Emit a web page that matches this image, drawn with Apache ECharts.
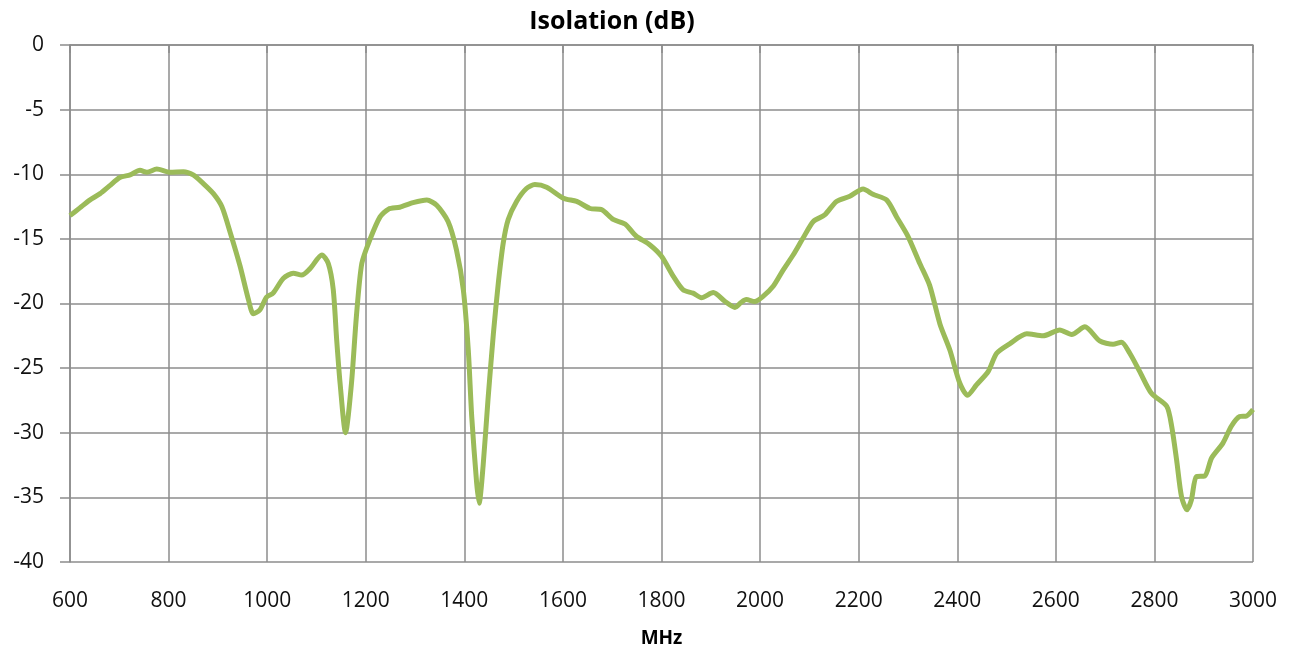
<!DOCTYPE html>
<html>
<head>
<meta charset="utf-8">
<script src="https://cdn.jsdelivr.net/npm/echarts@6/dist/echarts.min.js"></script>
<style>html,body{margin:0;padding:0;background:#fff;}#c{width:1296px;height:650px;}</style>
</head>
<body>
<div id="c"></div>
<script>
const chartTitle = 'Isolation (dB)';
const xAxisName = 'MHz';
const xTicks = [600, 3000, 200];
const yTicks = [-40, 0, 5];
const freqMHz = [600,620,640,661,680,701,722,742,756,776,803,830,850,870,891,908,925,945,962,972,985,999,1012,1033,1053,1070,1087,1111,1124,1134,1141,1148,1159,1171,1181,1192,1208,1229,1246,1269,1296,1324,1344,1367,1384,1398,1408,1415,1425,1430,1438,1448,1459,1469,1479,1489,1506,1526,1543,1567,1601,1628,1655,1679,1702,1726,1749,1776,1800,1824,1844,1864,1881,1905,1929,1949,1962,1972,1989,2006,2027,2047,2067,2087,2108,2131,2155,2182,2209,2229,2257,2277,2300,2324,2344,2365,2385,2405,2421,2439,2463,2480,2507,2541,2574,2608,2632,2659,2689,2716,2733,2750,2770,2794,2825,2835,2845,2855,2866,2875,2885,2902,2916,2939,2956,2973,2987,3000];
const isolationDb = [-13.2,-12.6,-12.0,-11.5,-10.9,-10.25,-10.05,-9.7,-9.85,-9.6,-9.85,-9.8,-10.05,-10.7,-11.5,-12.5,-14.5,-17.1,-19.7,-20.8,-20.5,-19.5,-19.2,-18.05,-17.65,-17.8,-17.3,-16.25,-16.9,-18.9,-22.8,-26.2,-30.0,-26.2,-21.0,-16.9,-15.1,-13.3,-12.7,-12.55,-12.2,-12.0,-12.4,-13.65,-15.85,-18.95,-23.6,-28.75,-33.9,-35.45,-32.6,-27.45,-22.3,-18.4,-15.3,-13.5,-12.1,-11.1,-10.8,-11.0,-11.85,-12.1,-12.65,-12.75,-13.5,-13.85,-14.8,-15.45,-16.35,-17.9,-18.95,-19.2,-19.55,-19.15,-19.85,-20.3,-19.9,-19.7,-19.85,-19.45,-18.65,-17.4,-16.25,-14.95,-13.65,-13.15,-12.1,-11.7,-11.15,-11.55,-12.0,-13.3,-14.8,-16.9,-18.6,-21.6,-23.6,-26.15,-27.1,-26.3,-25.25,-23.85,-23.1,-22.35,-22.5,-22.05,-22.4,-21.8,-22.9,-23.15,-23.0,-23.85,-25.25,-26.95,-27.95,-29.5,-32.1,-34.95,-35.95,-35.2,-33.4,-33.35,-31.95,-30.8,-29.5,-28.75,-28.7,-28.2];

const seriesData = freqMHz.map((f, i) => [f, isolationDb[i]]);
const gridColor = '#8c8c8c';
const fontFam = '"Open Sans", Lato, sans-serif';

const chart = echarts.init(document.getElementById('c'), null, {renderer: 'canvas'});
chart.setOption({
  animation: false,
  backgroundColor: '#ffffff',
  title: {
    text: chartTitle, left: 607, top: 4, textAlign: 'center',
    textStyle: {fontFamily: fontFam, fontSize: 25, fontWeight: 'bold', color: '#000'}
  },
  grid: {left: 70, right: 43, top: 45, bottom: 88, containLabel: false, outerBoundsMode: 'none'},
  xAxis: {
    type: 'value', min: xTicks[0], max: xTicks[1], interval: xTicks[2],
    name: xAxisName, nameLocation: 'middle', nameGap: 67,
    nameTextStyle: {fontFamily: fontFam, fontSize: 19, fontWeight: 'bold', color: '#000'},
    axisLine: {show: true, lineStyle: {color: gridColor, width: 1.5}},
    axisTick: {show: true, length: 8, lineStyle: {color: gridColor, width: 1.5}},
    axisLabel: {fontFamily: fontFam, fontSize: 21, color: '#111', margin: 29, formatter: v => String(v)},
    splitLine: {show: true, lineStyle: {color: gridColor, width: 1.5}}
  },
  yAxis: {
    type: 'value', min: yTicks[0], max: yTicks[1], interval: yTicks[2],
    axisLine: {show: true, lineStyle: {color: gridColor, width: 1.5}},
    axisTick: {show: true, length: 10, lineStyle: {color: gridColor, width: 1.5}},
    axisLabel: {fontFamily: fontFam, fontSize: 21, color: '#111', margin: 26},
    splitLine: {show: true, lineStyle: {color: gridColor, width: 1.5}}
  },
  series: [{
    type: 'line', data: seriesData, smooth: 0.25, showSymbol: false,
    lineStyle: {color: '#9bbb59', width: 5},
    itemStyle: {color: '#9bbb59'}
  }]
});
</script>
</body>
</html>
